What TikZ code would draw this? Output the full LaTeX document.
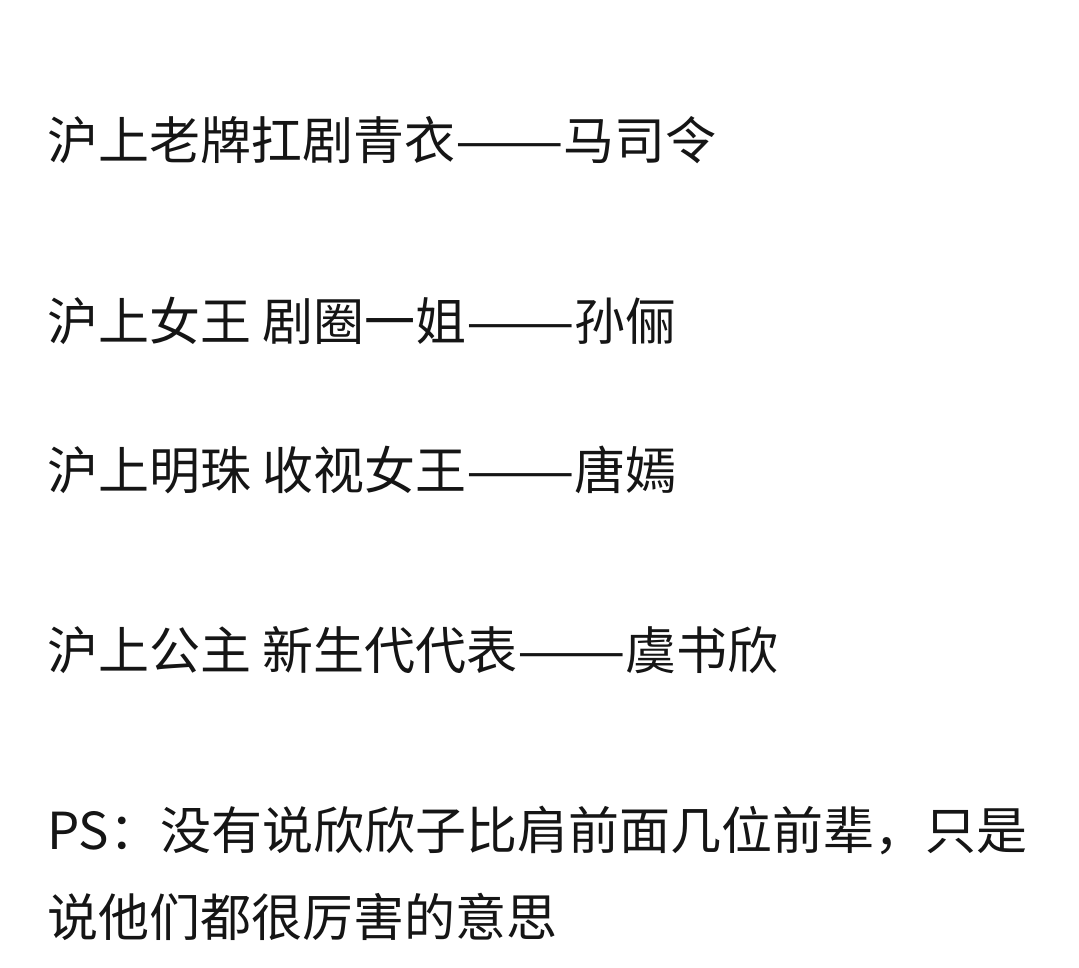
\documentclass[tikz,border=0pt]{standalone}
\usepackage{graphicx}
\usepackage{fontspec}
\setmainfont{Noto Sans CJK SC}
\definecolor{ink}{HTML}{151515}
\newcommand{\widedash}{\scalebox{1.27}[1]{——}}
\tikzset{line/.style={anchor=base west, inner sep=0pt, outer sep=0pt, text=ink, font=\fontsize{51pt}{60pt}\selectfont}}
\begin{document}
\begin{tikzpicture}[x=1pt,y=1pt]
\fill[white] (0,0) rectangle (1079,-967);
\useasboundingbox (0,0) rectangle (1079,-967);
\node[line] (l1) at (47,-159) {沪上老牌扛剧青衣\widedash 马司令};
\node[line] (l2) at (47,-340) {沪上女王 剧圈一姐\widedash 孙俪};
\node[line] (l3) at (47,-489) {沪上明珠 收视女王\widedash 唐嫣};
\node[line] (l4) at (47,-669) {沪上公主 新生代代表\widedash 虞书欣};
\node[line] (l5) at (47,-849) {PS：没有说欣欣子比肩前面几位前辈，只是};
\node[line] (l6) at (47,-936) {说他们都很厉害的意思};
\end{tikzpicture}
\end{document}
